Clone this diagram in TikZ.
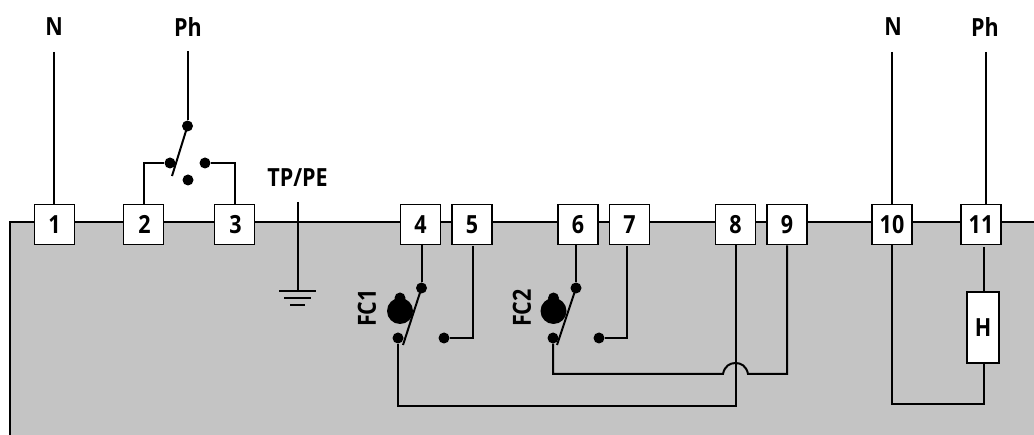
\documentclass[tikz,border=0pt]{standalone}
\usepackage{fontspec}
\setmainfont[FakeStretch=0.86]{Open Sans}
\definecolor{panelgrey}{HTML}{C4C4C4}
\tikzset{
  x=1pt,y=-1pt,
  wire/.style={draw=black,line width=2pt},
  terminal/.style={draw=black,fill=white,line width=1.8pt,minimum width=40pt,minimum height=40pt,inner sep=0pt,font=\fontsize{25}{25}\selectfont\bfseries},
  lbl/.style={inner sep=0pt,text=black,font=\fontsize{25}{25}\selectfont\bfseries},
  contact/.style={circle,fill=black,draw=none,minimum size=11pt,inner sep=0pt},
}
\begin{document}
\begin{tikzpicture}
\useasboundingbox (0,0) rectangle (1034,435);
\fill[panelgrey] (10,222) rectangle (1034,435);
\draw[wire] (10,435) -- (10,222) -- (1034,222);

% terminals
\foreach \n/\x in {t1/54.5,t2/143.5,t3/234.5,t4/420.5,t5/472,t6/578,t7/629.5,t8/735.5,t9/787,t10/892,t11/981}
  \node[terminal] (\n) at (\x,224.5) {};
\node[lbl] at (t1) {1}; \node[lbl] at ([xshift=1pt]t2) {2}; \node[lbl] at ([xshift=1pt]t3) {3};
\node[lbl] at (t4) {4}; \node[lbl] at (t5) {5}; \node[lbl] at (t6) {6};
\node[lbl] at (t7) {7}; \node[lbl] at (t8) {8}; \node[lbl] at (t9) {9};
\node[lbl] at (t10) {10}; \node[lbl] at (t11) {11};

% top labels
\node[lbl] (n1) at (54,27) {N};
\node[lbl] (ph1) at (188,27) {Ph};
\node[lbl] (n2) at (893,27) {N};
\node[lbl] (ph2) at (985,27) {Ph};
\node[lbl] (tppe) at (297.5,178) {TP/PE};

\coordinate (n1w) at (54,52);
\coordinate (ph1w) at (187.5,51);
\coordinate (n2w) at (892,52);
\coordinate (ph2w) at (986,52);

% selector switch
\node[contact] (sa) at (187.5,126) {};
\node[contact] (sb) at (170,163) {};
\node[contact] (sc) at (205,163) {};
\node[contact] (sd) at (188,180) {};
\coordinate (st) at (172,176);
\draw[wire] (n1w) -- (t1.north -| n1w);
\draw[wire] (ph1w) -- (sa);
\draw[wire] (sa.center) -- (st);
\draw[wire] (t2.north) |- (sb);
\draw[wire] (t3.north) |- (sc);

% earth
\coordinate (et) at (298,202);
\coordinate (eb) at (298,291);
\draw[wire] (et) -- (eb);
\draw[wire] (279,291) -- (316,291);
\draw[wire] (284,298) -- (311,298);
\draw[wire] (290,305) -- (305,305);

% FC1
\fill (400,311) circle (13);
\fill (400,298) circle (5.5);
\node[contact] (a4) at (421.5,288) {};
\node[contact] (a0) at (398,338) {};
\node[contact] (a5) at (444,338) {};
\coordinate (a4w) at (421.5,244);
\coordinate (a5w) at (472.5,246);
\coordinate (at) at (403,345);
\node[lbl,rotate=90] (fc1) at (367,308) {FC1};
\draw[wire] (a4w) -- (a4);
\draw[wire] (a4.center) -- (at);
\draw[wire] (a5w) |- (a5);
\draw[wire] (a0) |- (735.5,406) -- (t8.south);

% FC2
\fill (553.5,311) circle (13);
\fill (553.5,298) circle (5.5);
\node[contact] (b6) at (576,288) {};
\node[contact] (b0) at (553,338) {};
\node[contact] (b7) at (599,338) {};
\coordinate (b6w) at (576,244);
\coordinate (b7w) at (627,246);
\coordinate (bt) at (557,345);
\node[lbl,rotate=90] (fc2) at (522,308) {FC2};
\draw[wire] (b6w) -- (b6);
\draw[wire] (b6.center) -- (bt);
\draw[wire] (b7w) |- (b7);
\coordinate (hopl) at (723,374);
\coordinate (hopr) at (748,374);
\draw[wire] (b0) |- (hopl) .. controls (724.5,366) and (730,363) .. (735.5,363) .. controls (741,363) and (746.5,366) .. (hopr) -- (787,374) -- (t9.south);

% H load
\node[terminal,minimum width=32pt,minimum height=71pt] (h) at (983,327.5) {};
\node[lbl] at (h) {H};
\coordinate (hw) at (983.5,247);
\draw[wire] (hw) -- (983.5,292);
\draw[wire] (t10.south) |- (983.5,404) -- (983.5,363);
\draw[wire] (n2w) -- (t10.north);
\draw[wire] (ph2w) -- (986,204);
\end{tikzpicture}
\end{document}
